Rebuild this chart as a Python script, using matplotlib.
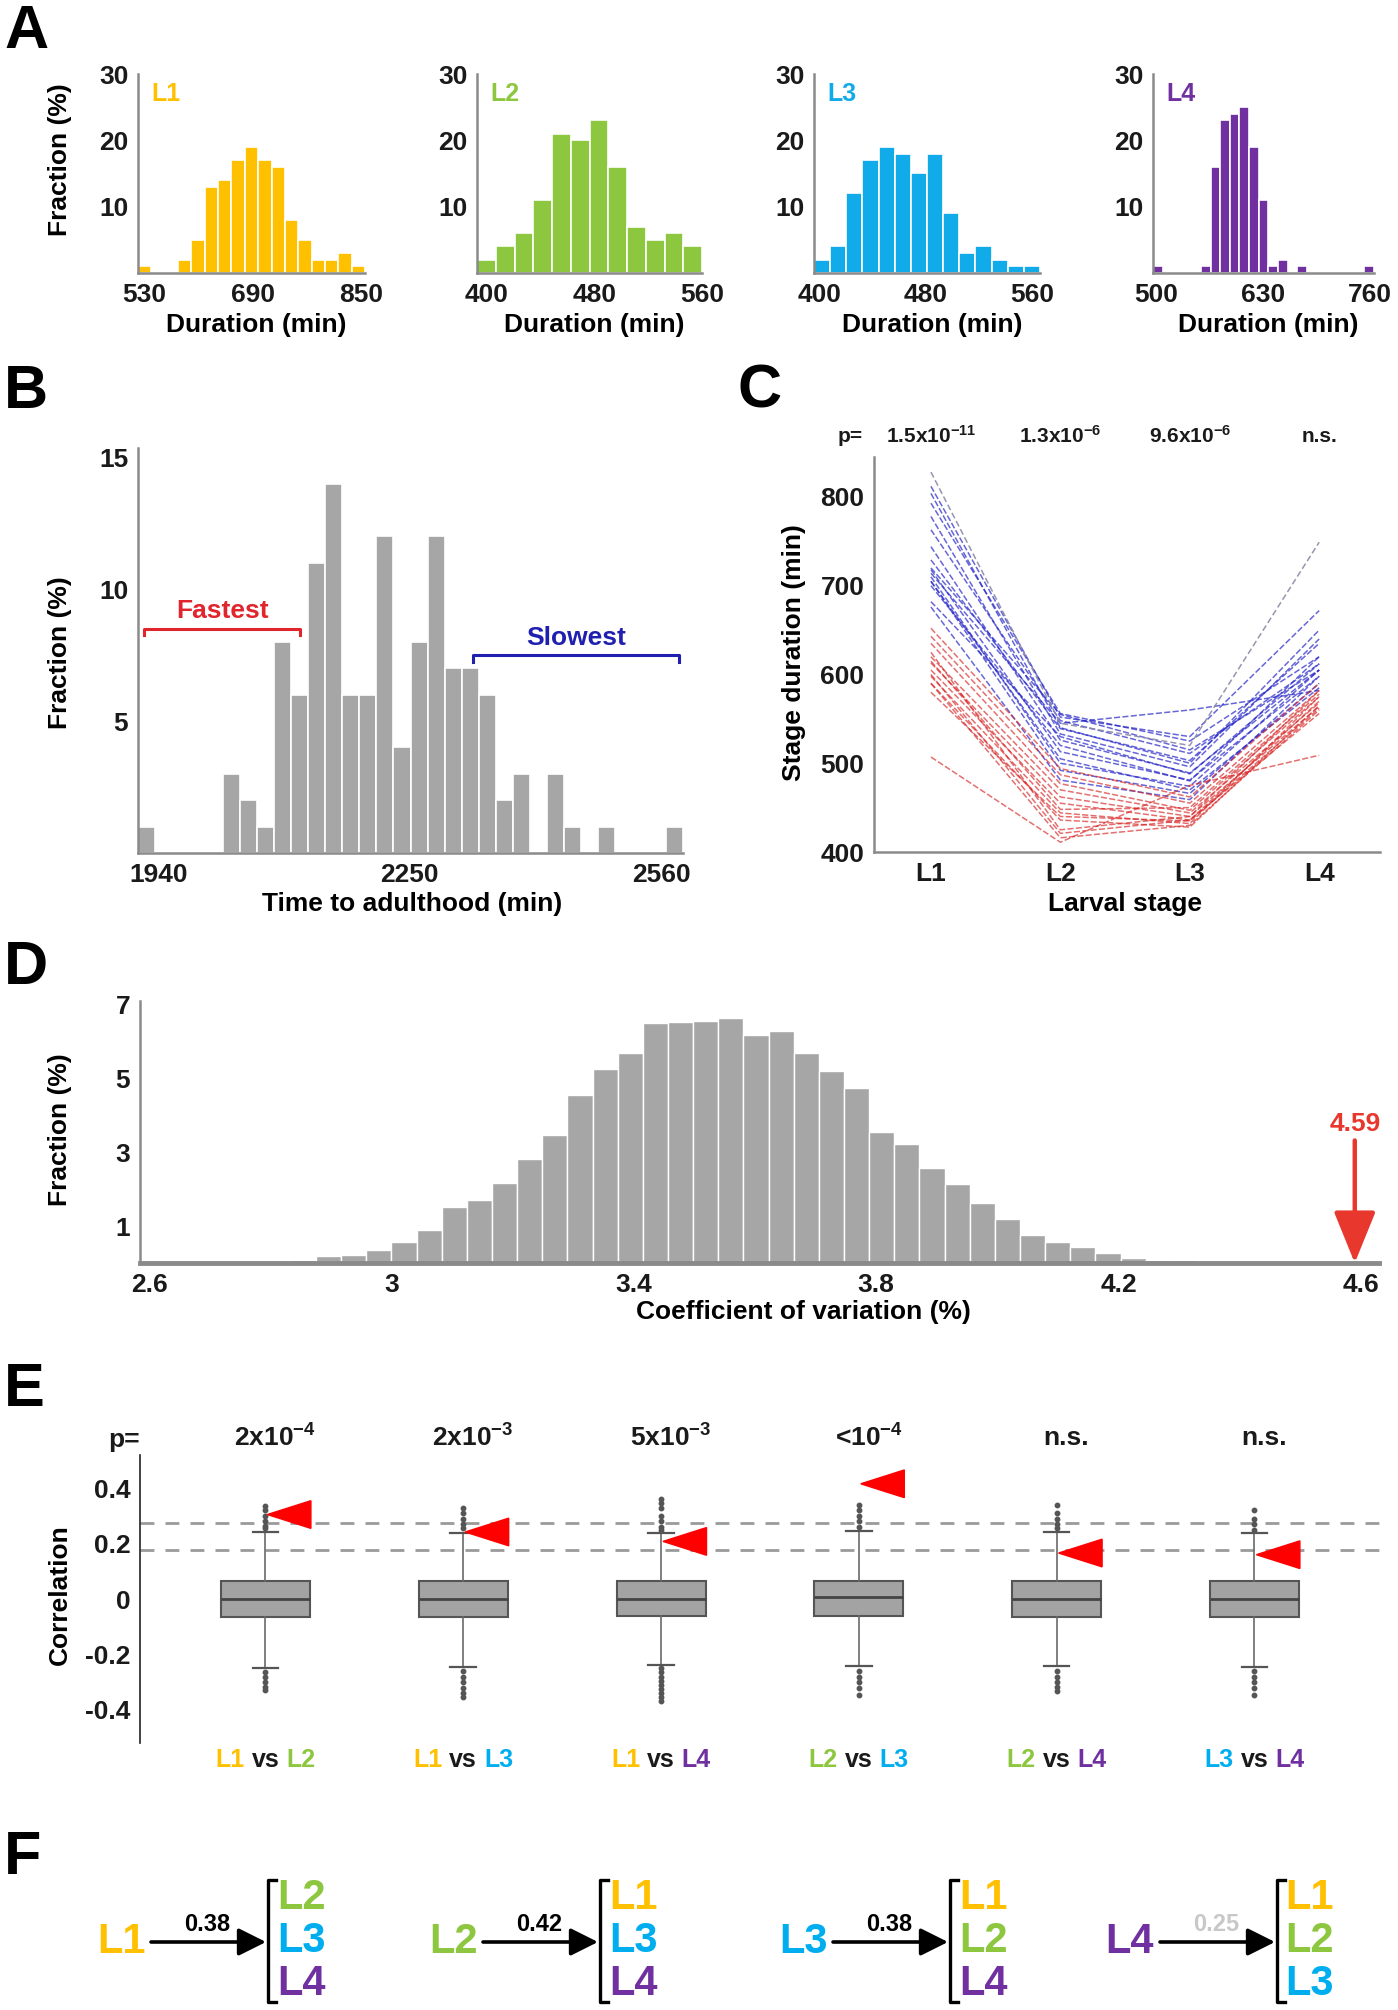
import numpy as np
import matplotlib
matplotlib.use('Agg')
import matplotlib.pyplot as plt
from matplotlib.patches import Polygon, FancyArrowPatch
from matplotlib.lines import Line2D
from matplotlib.transforms import blended_transform_factory

# ---------------- data ----------------
stage_names = ['L1', 'L2', 'L3', 'L4']
stage_colors = ['#FFC000', '#8DC63F', '#12ABEA', '#7030A0']

# Panel A: duration histograms (bin range, fractions per bin)
a_ranges = [(521, 856), (393, 560), (396, 566), (496.5, 765)]
a_xticks = [[530, 690, 850], [400, 480, 560], [400, 480, 560], [500, 630, 760]]
l1_frac = [1, 0, 0, 2, 5, 13, 14, 17, 19, 17, 16, 8, 5, 2, 2, 3, 1]
l2_frac = [2, 4, 6, 11, 21, 20, 23, 16, 7, 5, 6, 4]
l3_frac = [2, 4, 12, 17, 19, 18, 15, 18, 9, 3, 4, 2, 1, 1]
l4_frac = [1, 0, 0, 0, 0, 1, 16, 23, 24, 25, 19, 11, 1, 2, 0, 1, 0, 0, 0, 0, 0, 0, 1]

# Panel B: time to adulthood
b_range = (1915, 2587)
b_frac = [1, 0, 0, 0, 0, 3, 2, 1, 8, 6, 11, 14, 6, 6, 12, 4, 8, 12, 7, 7, 6, 2, 3, 0,
          3, 1, 0, 1, 0, 0, 0, 1]
b_fastest = (1923, 2115, 8.5)
b_slowest = (2328, 2582, 7.5)

# Panel C: stage durations of slowest (blue) and fastest (red) animals (L1, L2, L3, L4)
c_slow = [
    [812, 552, 530, 672], [804, 540, 500, 650], [793, 556, 525, 620],
    [778, 533, 496, 640], [763, 548, 511, 612], [744, 526, 489, 605],
    [729, 539, 503, 635], [718, 513, 481, 598], [714, 545, 560, 582],
    [710, 500, 474, 605], [705, 492, 466, 590], [682, 530, 488, 612],
    [676, 481, 459, 598], [700, 520, 480, 620], [720, 555, 515, 605],
    [705, 505, 470, 585],
]
c_slow_gray = [828, 545, 520, 749]
c_fast = [
    [652, 494, 462, 590], [643, 487, 455, 582], [635, 477, 447, 575],
    [620, 470, 444, 568], [613, 462, 440, 564], [605, 455, 436, 556],
    [598, 444, 432, 575], [590, 436, 428, 565], [625, 425, 440, 582],
    [600, 421, 436, 570], [590, 416, 430, 560], [507, 411, 475, 509],
    [615, 448, 450, 578], [580, 440, 435, 562],
]
c_pvals = [r'1.5x10$^{-11}$', r'1.3x10$^{-6}$', r'9.6x10$^{-6}$', 'n.s.']

# Panel D: coefficient of variation distribution
d_first_edge = 2.834
d_bin_width = 0.0415
d_frac = [0.07, 0.20, 0.23, 0.36, 0.57, 0.89, 1.52, 1.72, 2.16, 2.83, 3.47, 4.54,
          5.25, 5.68, 6.50, 6.53, 6.57, 6.64, 6.17, 6.29, 5.68, 5.19, 4.74, 3.56,
          3.23, 2.57, 2.14, 1.63, 1.18, 0.75, 0.58, 0.43, 0.26, 0.13, 0.09, 0.08]
d_observed = 4.59
d_xticks = [2.6, 3, 3.4, 3.8, 4.2, 4.6]
d_yticks = [1, 3, 5, 7]

# Panel E: correlation boxplots
e_pairs = [('L1', 'L2'), ('L1', 'L3'), ('L1', 'L4'), ('L2', 'L3'), ('L2', 'L4'), ('L3', 'L4')]
e_pvals = [r'2x10$^{-4}$', r'2x10$^{-3}$', r'5x10$^{-3}$', r'<10$^{-4}$', 'n.s.', 'n.s.']
e_med = [0.0, 0.0, 0.0, 0.006, 0.0, 0.0]
e_q1 = [-0.066, -0.066, -0.063, -0.063, -0.066, -0.066]
e_q3 = [0.064, 0.064, 0.064, 0.066, 0.064, 0.064]
e_whishi = [0.242, 0.239, 0.237, 0.245, 0.241, 0.239]
e_whislo = [-0.250, -0.246, -0.238, -0.243, -0.243, -0.246]
e_fliers_hi = [
    [0.255, 0.265, 0.28, 0.30, 0.32, 0.336],
    [0.255, 0.27, 0.29, 0.31, 0.33],
    [0.25, 0.26, 0.28, 0.30, 0.33, 0.345, 0.36],
    [0.26, 0.28, 0.30, 0.32, 0.338],
    [0.255, 0.27, 0.29, 0.31, 0.338],
    [0.25, 0.27, 0.29, 0.32],
]
e_fliers_lo = [
    [-0.262, -0.28, -0.30, -0.318, -0.33],
    [-0.26, -0.28, -0.30, -0.32, -0.34, -0.353],
    [-0.25, -0.265, -0.28, -0.295, -0.31, -0.325, -0.34, -0.355, -0.37],
    [-0.26, -0.28, -0.30, -0.32, -0.346],
    [-0.26, -0.28, -0.30, -0.318, -0.334],
    [-0.26, -0.28, -0.30, -0.32, -0.346],
]
e_observed = [0.305, 0.242, 0.208, 0.416, 0.166, 0.160]
e_thresholds = [0.275, 0.178]
e_yticks = [-0.4, -0.2, 0, 0.2, 0.4]

# Panel F
f_sources = ['L1', 'L2', 'L3', 'L4']
f_values = ['0.38', '0.42', '0.38', '0.25']
f_value_colors = ['black', 'black', 'black', '#c8c8c8']
f_targets = [['L2', 'L3', 'L4'], ['L1', 'L3', 'L4'], ['L1', 'L2', 'L4'], ['L1', 'L2', 'L3']]

# ---------------- style ----------------
NARROW = ['Liberation Sans Narrow', 'Liberation Sans', 'DejaVu Sans']
plt.rcParams['font.family'] = ['Liberation Sans', 'DejaVu Sans']
plt.rcParams['font.weight'] = 'bold'
plt.rcParams['mathtext.fontset'] = 'custom'
plt.rcParams['mathtext.rm'] = 'Liberation Sans:bold'
plt.rcParams['mathtext.bf'] = 'Liberation Sans:bold'
plt.rcParams['mathtext.default'] = 'bf'

SPINE = '#8a8a8a'
BARGRAY = '#a6a6a6'
TXT = '#1a1a1a'
cmap = dict(zip(stage_names, ['#FFC000', '#8DC63F', '#00AEEF', '#7030A0']))

W, H = 1398, 2010
fig = plt.figure(figsize=(W / 100, H / 100), dpi=100)


def add_ax(l, t, r, b):
    return fig.add_axes([l / W, 1 - b / H, (r - l) / W, (b - t) / H])


def ftext(x, y, s, **kw):
    return fig.text(x / W, 1 - y / H, s, **kw)


def style_ax(ax, tick_size=19):
    for s in ['top', 'right']:
        ax.spines[s].set_visible(False)
    for s in ['left', 'bottom']:
        ax.spines[s].set_color(SPINE)
        ax.spines[s].set_linewidth(1.8)
    ax.tick_params(length=0, pad=7, labelsize=tick_size, labelcolor=TXT,
                   labelfontfamily=NARROW)


# panel letters
for letter, (x, y) in zip('ABCDEF', [(4, 4), (4, 364), (738, 364), (4, 940), (4, 1362), (4, 1830)]):
    ftext(x, y, letter, fontsize=44, fontweight='bold', ha='left', va='top', color='black')

# ---------------- Panel A ----------------
a_fracs = [l1_frac, l2_frac, l3_frac, l4_frac]
a_px = [(138, 365), (477, 702), (814, 1040), (1153, 1374)]
for i in range(4):
    l, r = a_px[i]
    ax = add_ax(l, 74, r, 273)
    lo, hi = a_ranges[i]
    frac = a_fracs[i]
    edges = np.linspace(lo, hi, len(frac) + 1)
    ax.bar(edges[:-1], frac, width=np.diff(edges), align='edge',
           color=stage_colors[i], edgecolor='white', linewidth=1.2)
    ax.set_xlim(lo, hi)
    ax.set_ylim(0, 30)
    ax.set_xticks(a_xticks[i])
    ax.set_yticks([10, 20, 30])
    style_ax(ax)
    ax.text(0.06, 0.9, stage_names[i], transform=ax.transAxes, color=stage_colors[i],
            fontsize=18, fontweight='bold', family=NARROW, ha='left', va='center')
    ftext((l + r) / 2 + 5, 325, 'Duration (min)', fontsize=19, ha='center', va='center')
ftext(60, 160, 'Fraction (%)', fontsize=19, rotation=90, ha='center', va='center')

# ---------------- Panel B ----------------
axb = add_ax(138, 448, 683, 853)
edges = np.linspace(b_range[0], b_range[1], len(b_frac) + 1)
axb.bar(edges[:-1], b_frac, width=np.diff(edges), align='edge', color=BARGRAY,
        edgecolor='white', linewidth=1.2)
axb.set_xlim(*b_range)
axb.set_ylim(0, 15.35)
axb.set_xticks([1940, 2250, 2560])
axb.set_yticks([5, 10, 15])
style_ax(axb)
for (x0, x1, yb), name, col in [(b_fastest, 'Fastest', '#e0262c'), (b_slowest, 'Slowest', '#1f1fb0')]:
    axb.plot([x0, x0, x1, x1], [yb - 0.25, yb, yb, yb - 0.25], color=col, lw=2.2)
    axb.text((x0 + x1) / 2, yb + 0.2, name, color=col, fontsize=19, family=NARROW,
             fontweight='bold', ha='center', va='bottom')
ftext(60, 653, 'Fraction (%)', fontsize=19, rotation=90, ha='center', va='center')
ftext(412, 904, 'Time to adulthood (min)', fontsize=19, ha='center', va='center')

# ---------------- Panel C ----------------
axc = add_ax(874, 457, 1380, 852)
xs = [1, 2, 3, 4]
for row in c_slow:
    axc.plot(xs, row, color='#2626c8', lw=1.1, alpha=0.7, ls=(0, (4, 1.5)))
axc.plot(xs, c_slow_gray, color='#8a8aa8', lw=1.1, alpha=0.9, ls=(0, (4, 2)))
for row in c_fast:
    axc.plot(xs, row, color='#d62222', lw=1.1, alpha=0.65, ls=(0, (4, 1.5)))
axc.set_xlim(0.56, 4.47)
axc.set_ylim(400, 845)
axc.set_xticks(xs)
axc.set_xticklabels(stage_names)
axc.set_yticks([400, 500, 600, 700, 800])
style_ax(axc)
bt = blended_transform_factory(axc.transData, fig.transFigure)
ftext(850, 436, 'p=', fontsize=15, family=NARROW, ha='center', va='center', color=TXT)
for x, p in zip(xs, c_pvals):
    axc.text(x, 1 - 436 / H, p, transform=bt, fontsize=15, family=NARROW,
             ha='center', va='center', color=TXT)
ftext(794, 653, 'Stage duration (min)', fontsize=19, rotation=90, ha='center', va='center')
ftext(1125, 904, 'Larval stage', fontsize=19, ha='center', va='center')

# ---------------- Panel D ----------------
axd = add_ax(140, 1001, 1379, 1263)
d_edges = d_first_edge + d_bin_width * np.arange(len(d_frac) + 1)
axd.bar(d_edges[:-1], d_frac, width=d_bin_width, align='edge', color=BARGRAY,
        edgecolor='white', linewidth=1.0)
axd.set_xlim(2.585, 4.63)
axd.set_ylim(0, 7.1)
axd.set_xticks(d_xticks)
axd.set_xticklabels(['2.6', '3', '3.4', '3.8', '4.2', '4.6'])
axd.set_yticks(d_yticks)
style_ax(axd)
axd.spines['bottom'].set_linewidth(3.5)
axd.annotate('', xy=(d_observed, 0.0), xytext=(d_observed, 3.32),
             arrowprops=dict(arrowstyle='-|>,head_length=1.6,head_width=0.65',
                             mutation_scale=20, color='#e8372c', lw=3.2,
                             shrinkA=0, shrinkB=0))
axd.text(d_observed, 3.77, f'{d_observed:.2f}', color='#e8372c', fontsize=19,
         family=NARROW, ha='center', va='center')
ftext(60, 1130, 'Fraction (%)', fontsize=19, rotation=90, ha='center', va='center')
ftext(803, 1312, 'Coefficient of variation (%)', fontsize=19, family=NARROW,
      ha='center', va='center')

# ---------------- Panel E ----------------
axe = add_ax(140, 1455, 1381, 1743)
pos = np.arange(1, len(e_pairs) + 1)
stats = []
for i in range(len(e_pairs)):
    stats.append(dict(med=e_med[i], q1=e_q1[i], q3=e_q3[i], whislo=e_whislo[i],
                      whishi=e_whishi[i], fliers=e_fliers_hi[i] + e_fliers_lo[i]))
for yv in e_thresholds:
    axe.axhline(yv, color='#9a9a9a', lw=2, ls=(0, (5, 4)), zorder=1)
axe.bxp(stats, positions=pos, widths=0.45, patch_artist=True, showfliers=True,
        boxprops=dict(facecolor='#a3a3a3', edgecolor='#555555', linewidth=1.5),
        medianprops=dict(color='#444444', linewidth=2),
        whiskerprops=dict(color='#6a6a6a', linewidth=1.2),
        capprops=dict(color='#555555', linewidth=1.6),
        capwidths=0.13,
        flierprops=dict(marker='o', markersize=3.2, markerfacecolor='#555555',
                        markeredgecolor='#555555'),
        zorder=2)
for p, v in zip(pos, e_observed):
    tri = Polygon([[p + 0.01, v], [p + 0.23, v + 0.05], [p + 0.23, v - 0.05]],
                  closed=True, facecolor='#ff0000', edgecolor='#ff0000', zorder=5)
    axe.add_patch(tri)
axe.set_xlim(0.366, 6.64)
axe.set_ylim(-0.52, 0.52)
axe.set_xticks([])
axe.set_yticks(e_yticks)
axe.set_yticklabels(['-0.4', '-0.2', '0', '0.2', '0.4'])
style_ax(axe)
axe.spines['bottom'].set_visible(False)
axe.spines['left'].set_color('#222222')
axe.spines['left'].set_linewidth(1.2)
be = blended_transform_factory(axe.transData, fig.transFigure)
ftext(124, 1440, 'p=', fontsize=19, family=NARROW, ha='center', va='center', color=TXT)
for p, pv, (s1, s2) in zip(pos, e_pvals, e_pairs):
    axe.text(p + 0.05, 1 - 1438 / H, pv, transform=be, fontsize=19, family=NARROW,
             ha='center', va='center', color=TXT)
    yl = 1 - 1760 / H
    axe.annotate('vs', xy=(p, yl), xycoords=be, ha='center', va='center',
                 fontsize=18, family=NARROW, color=TXT)
    axe.annotate(s1, xy=(p, yl), xycoords=be, xytext=(-15, 0), textcoords='offset points',
                 ha='right', va='center', fontsize=18, family=NARROW, color=cmap[s1])
    axe.annotate(s2, xy=(p, yl), xycoords=be, xytext=(15, 0), textcoords='offset points',
                 ha='left', va='center', fontsize=18, family=NARROW, color=cmap[s2])
ftext(60, 1595, 'Correlation', fontsize=19, rotation=90, ha='center', va='center')

# ---------------- Panel F ----------------
f_src_x = [121, 453, 803, 1130]
ymid = 1942
for i, src in enumerate(f_sources):
    sx = f_src_x[i]
    ftext(sx, ymid, src, fontsize=30, color=cmap[src], ha='center', va='center',
          family=NARROW)
    arr = FancyArrowPatch(((sx + 30) / W, 1 - ymid / H), ((sx + 145) / W, 1 - ymid / H),
                          transform=fig.transFigure, arrowstyle='-|>,head_length=0.7,head_width=0.35',
                          mutation_scale=24, color='black', lw=2.6, shrinkA=0, shrinkB=0)
    fig.add_artist(arr)
    ftext(sx + 86, 1924, f_values[i], fontsize=17, family=NARROW, color=f_value_colors[i],
          ha='center', va='center')
    bx = sx + 147
    fig.add_artist(Line2D([(bx + 8) / W, bx / W, bx / W, (bx + 8) / W],
                          [1 - 1880 / H, 1 - 1880 / H, 1 - 2002 / H, 1 - 2002 / H],
                          transform=fig.transFigure, color='black', lw=2.4))
    for j, tg in enumerate(f_targets[i]):
        ftext(sx + 180, 1898 + 43 * j, tg, fontsize=30, color=cmap[tg], ha='center',
              va='center', family=NARROW)

fig.savefig('out.png', dpi=100, facecolor='white')
